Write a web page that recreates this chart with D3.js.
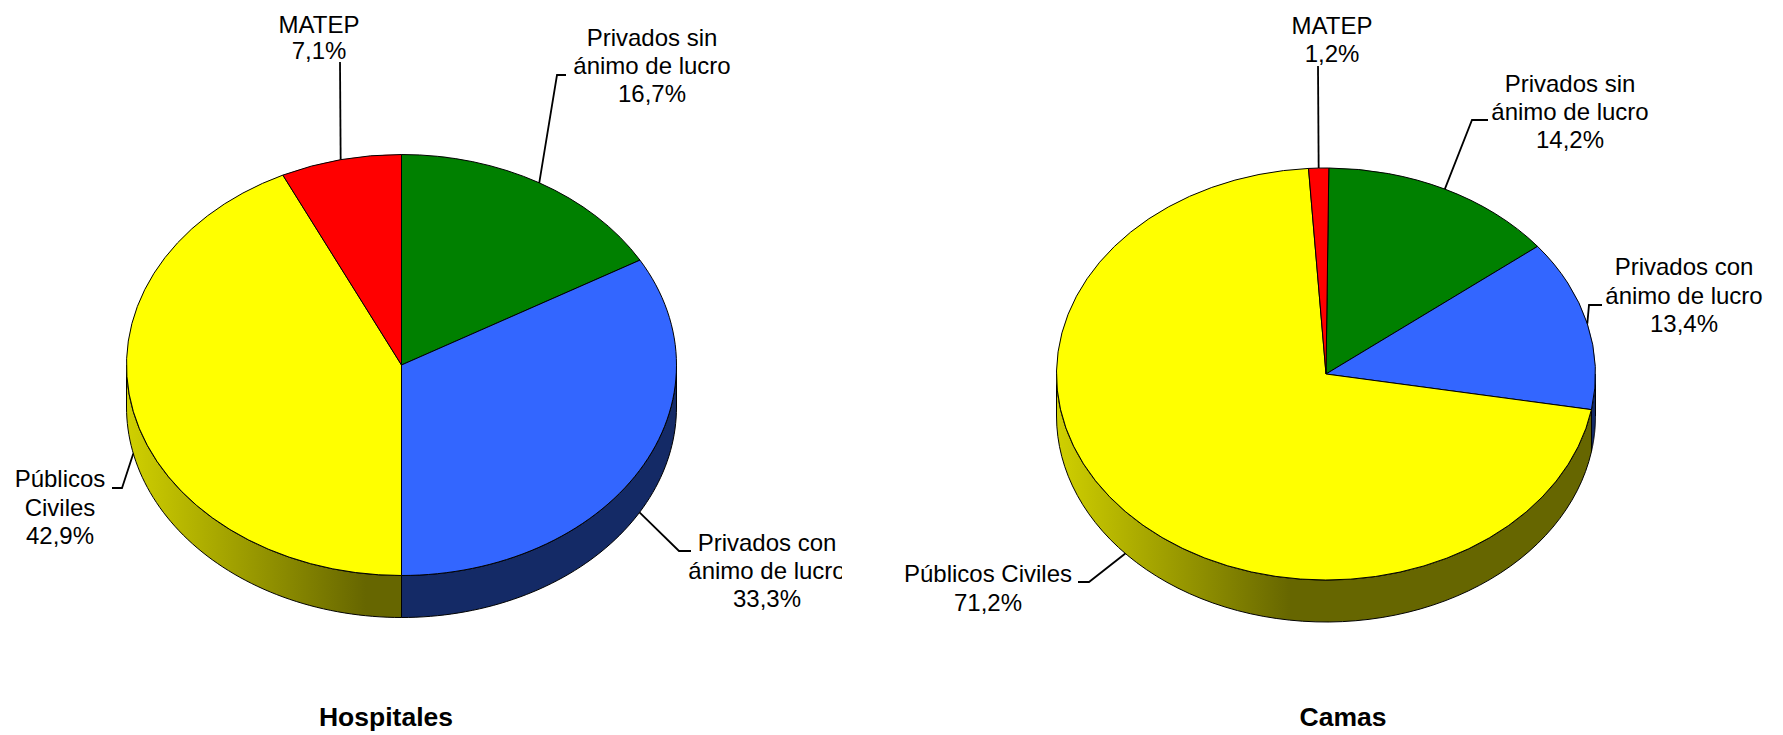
<!DOCTYPE html>
<meta charset="UTF-8">
<script src="https://d3js.org/d3.v7.min.js"></script>
<style>
body { margin: 0; background: white; }
text { font-family: "Liberation Sans", Arial, sans-serif; fill: black; }
</style>
<div id="my_dataviz"></div>
<script>

// values, clockwise from the top
var categories = ["Privados sin ánimo de lucro", "Privados con ánimo de lucro", "Públicos Civiles", "MATEP"]
var hospitales = [16.7, 33.3, 42.9, 7.1]
var camas = [14.2, 13.4, 71.2, 1.2]
var topColors = ["#008000", "#3366ff", "#ffff00", "#ff0000"]
var sideColors = ["#004000", "#142a66", "#666600", "#800000"]

var width = 1783
var height = 735

var svg = d3.select("#my_dataviz").append("svg")
    .attr("width", width)
    .attr("height", height)
    .style("display", "block")

var defs = svg.append("defs")

// the label on the left pie is cut off on its right side in the original
defs.append("clipPath").attr("id", "cut")
    .append("rect").attr("x", 600).attr("y", 500).attr("width", 242).attr("height", 130)

// where each label goes: text lines, their centre, baselines and leader elbows
var hospitalesLabels = [
    { lines: ["Privados sin", "ánimo de lucro", "16,7%"], x: 652, y: [46, 74, 102], leader: [[557, 75], [566, 75]] },
    { lines: ["Privados con", "ánimo de lucro", "33,3%"], x: 767, y: [551, 579, 607], leader: [[679, 551], [691, 551]], clip: true },
    { lines: ["Públicos", "Civiles", "42,9%"], x: 60, y: [487, 516, 544], leader: [[122, 488], [112, 488]] },
    { lines: ["MATEP", "7,1%"], x: 319, y: [33, 59], leader: [[340, 62]] }
]
var camasLabels = [
    { lines: ["Privados sin", "ánimo de lucro", "14,2%"], x: 1570, y: [92, 120, 148], leader: [[1472, 120], [1488, 120]] },
    { lines: ["Privados con", "ánimo de lucro", "13,4%"], x: 1684, y: [275, 304, 332], leader: [[1589, 305], [1602, 305]] },
    { lines: ["Públicos Civiles", "71,2%"], x: 988, y: [582, 611], leader: [[1089, 582], [1078, 582]] },
    { lines: ["MATEP", "1,2%"], x: 1332, y: [34, 62], leader: [[1318, 66]] }
]

function drawPie(id, values, labels, title, o) {
    var g = svg.append("g")

    var pie = d3.pie().sort(null).startAngle(o.rotate).endAngle(o.rotate + 2 * Math.PI)
    var slices = pie(values)

    function px(a) { return o.cx + o.rx * Math.sin(a) }
    function py(a) { return o.cy - o.ry * Math.cos(a) }

    // yellow side goes from light on the left to dark near the middle
    var grad = defs.append("linearGradient").attr("id", "side" + id)
        .attr("gradientUnits", "userSpaceOnUse")
        .attr("x1", o.cx - o.rx).attr("x2", o.cx - o.rx * 0.13).attr("y1", 0).attr("y2", 0)
    grad.append("stop").attr("offset", 0).attr("stop-color", "#d0d000")
    grad.append("stop").attr("offset", 1).attr("stop-color", "#666600")

    // side walls, only the part of each slice facing the viewer
    var line = d3.line()
    slices.forEach(function(d, i) {
        var a0 = Math.max(d.startAngle, Math.PI / 2)
        var a1 = Math.min(d.endAngle, 3 * Math.PI / 2)
        if (a1 <= a0) return
        var angles = d3.range(0, 61).map(function(k) { return a0 + (a1 - a0) * k / 60 })
        var top = angles.map(function(a) { return [px(a), py(a)] })
        var bottom = angles.slice().reverse().map(function(a) { return [px(a), py(a) + o.depth] })
        g.append("path")
            .attr("d", line(top.concat(bottom)) + "Z")
            .attr("fill", i == 2 ? "url(#side" + id + ")" : sideColors[i])
            .attr("stroke", "black")
            .attr("stroke-width", 1)
    })

    // top of the pie, a circle squashed into an ellipse
    var arc = d3.arc().innerRadius(0).outerRadius(o.rx)
    g.append("g")
        .attr("transform", "translate(" + o.cx + "," + o.cy + ") scale(1," + (o.ry / o.rx) + ")")
        .selectAll("path")
        .data(slices)
        .enter()
        .append("path")
            .attr("d", arc)
            .attr("fill", function(d, i) { return topColors[i] })
            .attr("stroke", "black")
            .attr("stroke-width", 1)
            .attr("vector-effect", "non-scaling-stroke")

    // leader lines start at the middle of the slice, on the wall if it faces us
    slices.forEach(function(d, i) {
        var mid = (d.startAngle + d.endAngle) / 2
        var front = Math.cos(mid) < 0
        var start = [px(mid), py(mid) + (front ? o.depth : 0)]
        g.append("path")
            .attr("d", line([start].concat(labels[i].leader)))
            .attr("fill", "none")
            .attr("stroke", "black")
            .attr("stroke-width", 1.8)
    })

    labels.forEach(function(l) {
        var t = g.append("g")
        if (l.clip) t.attr("clip-path", "url(#cut)")
        l.lines.forEach(function(s, k) {
            t.append("text")
                .attr("x", l.x)
                .attr("y", l.y[k])
                .attr("text-anchor", "middle")
                .attr("font-size", 24)
                .text(s)
        })
    })

    g.append("text")
        .attr("x", o.titleX)
        .attr("y", 726)
        .attr("text-anchor", "middle")
        .attr("font-size", 26.5)
        .attr("font-weight", "bold")
        .text(title)
}

drawPie("H", hospitales, hospitalesLabels, "Hospitales",
    { cx: 401.5, cy: 365, rx: 275, ry: 210.5, depth: 42, rotate: 0, titleX: 386 })
drawPie("C", camas, camasLabels, "Camas",
    { cx: 1326, cy: 374, rx: 269.5, ry: 206, depth: 42, rotate: 0.6 * Math.PI / 180, titleX: 1343 })

</script>
